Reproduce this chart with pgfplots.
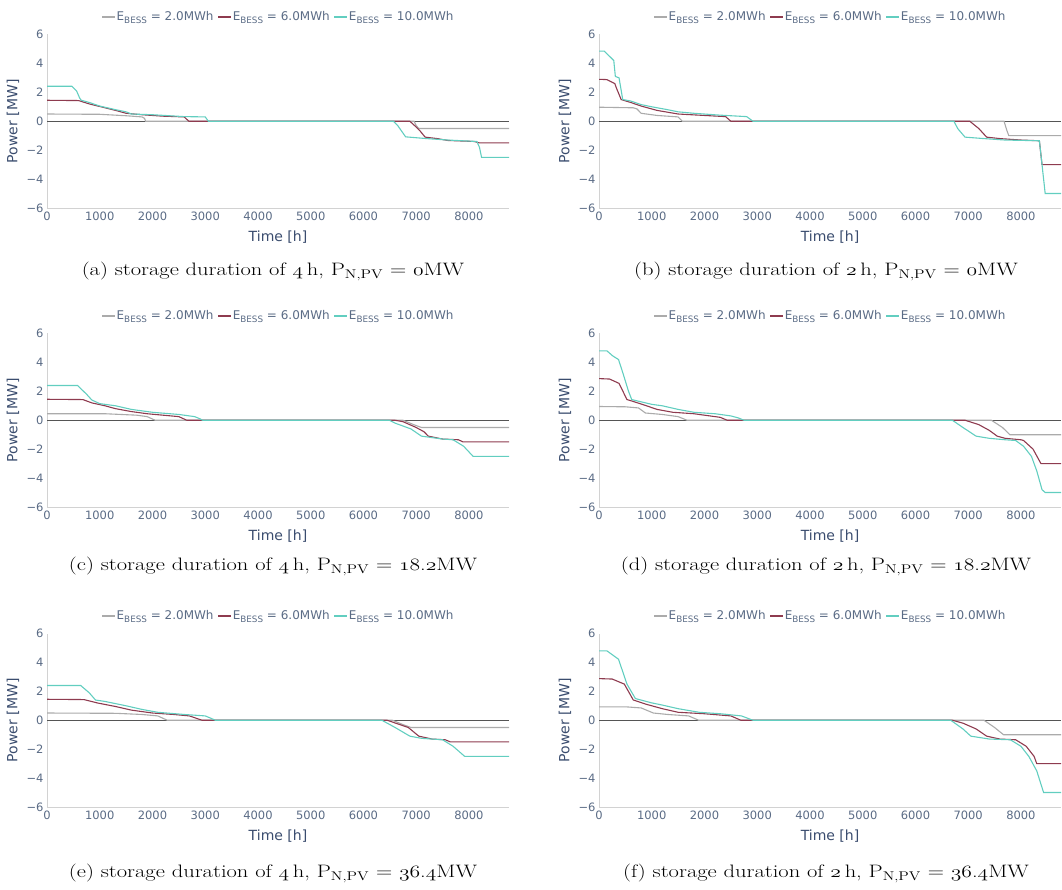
\documentclass[border=0pt]{standalone}
\usepackage{fontspec}
\usepackage{graphicx}
\usepackage{pgfplots}
\pgfplotsset{compat=1.18}
\newfontfamily\plotfont{DejaVu Sans}

\definecolor{cgray}{HTML}{ABABAB}
\definecolor{cred}{HTML}{8E3B4F}
\definecolor{cteal}{HTML}{62CEC0}
\definecolor{ctick}{HTML}{5A6B85}
\definecolor{ctitle}{HTML}{3A4C6E}
\definecolor{caxis}{HTML}{D2D2D2}
\definecolor{czero}{HTML}{555555}

% legend entry: E_BESS = <value>MWh
\newcommand\Eb[1]{E\raisebox{-2.3pt}{\fontsize{8.8}{9}\selectfont BESS} = #1MWh}
% old-style figures from the math italic font
\newcommand\osf[1]{{\usefont{OML}{cmm}{m}{it}#1}}

\pgfplotsset{
  bess/.style={
    scale only axis, width=462pt, height=173.5pt,
    xmin=0, xmax=8760, ymin=-6, ymax=6,
    axis lines*=left,
    axis line style={draw=caxis, line width=0.9pt},
    major tick length=0pt,
    xtick={0,1000,...,8000},
    ytick={-6,-4,...,6},
    xticklabels={0,1000,2000,3000,4000,5000,6000,7000,8000},
    yticklabels={−6,−4,−2,0,2,4,6},
    /pgf/number format/assume math mode=true,
    tick label style={font=\plotfont\fontsize{11.5}{13}\selectfont, text=ctick},
    xlabel={Time [h]}, ylabel={Power [MW]},
    label style={font=\plotfont\fontsize{14}{16}\selectfont, text=ctitle},
    xlabel style={at={(axis description cs:0.5,-0.167)}, anchor=center},
    ylabel style={at={(axis description cs:-0.0736,0.5)}, anchor=center},
    legend style={at={(0.5,1)}, anchor=south, yshift=11pt, draw=none, fill=none,
      legend columns=-1, inner sep=0pt,
      font=\plotfont\fontsize{12}{13}\selectfont, text=ctick,
      nodes={inner sep=1pt},
      /tikz/every even column/.append style={column sep=3pt}},
    legend image code/.code={\draw[#1, line width=1.2pt] (0pt,0pt) -- (13pt,0pt);},
    every axis plot/.append style={line width=1.1pt, mark=none},
  },
  zero/.style={czero, line width=0.7pt, forget plot},
}

\newcommand\caplabel[3]{\scalebox{1.25}[1]{(#1) storage duration of \osf{#2}\,h, $\mathrm{P}_{\mathrm{N,PV}}$ = #3MW}}

\begin{document}
\begin{tikzpicture}
\path[use as bounding box] (0,0) rectangle (1062pt,890pt);

% (a) 4 h, 0 MW
\begin{axis}[bess, at={(47pt,682pt)}, anchor=south west]
\addplot[zero] coordinates {(0,0) (8760,0)};
\addplot[cgray] coordinates {(0,0.5) (1000,0.48) (1500,0.38) (1800,0.3) (1850,0.2) (1870,0) (6960,0) (7000,-0.3) (7050,-0.5) (8760,-0.5)};
\addplot[cred] coordinates {(0,1.45) (600,1.43) (800,1.2) (1000,1.02) (1300,0.75) (1500,0.55) (1800,0.45) (2200,0.35) (2600,0.3) (2690,0) (6880,0) (7000,-0.4) (7080,-0.7) (7170,-1.1) (7400,-1.2) (7600,-1.33) (8100,-1.4) (8200,-1.5) (8760,-1.5)};
\addplot[cteal] coordinates {(0,2.42) (470,2.42) (560,2.1) (620,1.6) (650,1.45) (800,1.3) (1000,1.05) (1300,0.8) (1500,0.65) (1600,0.5) (2000,0.45) (2600,0.32) (3000,0.3) (3060,0) (6570,0) (6650,-0.3) (6800,-1.08) (7200,-1.2) (7600,-1.3) (8150,-1.4) (8200,-1.8) (8240,-2.5) (8760,-2.5)};
\legend{\Eb{2.0},\Eb{6.0},\Eb{10.0}}
\end{axis}

% (b) 2 h, 0 MW
\begin{axis}[bess, at={(599pt,682pt)}, anchor=south west]
\addplot[zero] coordinates {(0,0) (8760,0)};
\addplot[cgray] coordinates {(0,0.97) (650,0.93) (720,0.85) (800,0.55) (1100,0.4) (1500,0.3) (1580,0) (7680,0) (7730,-0.6) (7770,-1.0) (8760,-1.0)};
\addplot[cred] coordinates {(0,2.9) (150,2.88) (300,2.6) (330,2.3) (420,1.5) (600,1.3) (800,1.05) (1100,0.75) (1500,0.5) (2000,0.4) (2400,0.32) (2500,0) (7030,0) (7200,-0.5) (7350,-1.1) (7600,-1.2) (8000,-1.3) (8350,-1.35) (8400,-3.0) (8760,-3.0)};
\addplot[cteal] coordinates {(0,4.85) (100,4.85) (280,4.2) (310,3.1) (380,3.0) (450,1.5) (600,1.4) (800,1.15) (1000,1.0) (1300,0.8) (1500,0.65) (1800,0.55) (2300,0.42) (2800,0.32) (2920,0) (6730,0) (6800,-0.5) (6940,-1.1) (7300,-1.2) (7700,-1.3) (8350,-1.35) (8400,-3.0) (8460,-5.0) (8760,-5.0)};
\legend{\Eb{2.0},\Eb{6.0},\Eb{10.0}}
\end{axis}

% (c) 4 h, 18.2 MW
\begin{axis}[bess, at={(47pt,383pt)}, anchor=south west]
\addplot[zero] coordinates {(0,0) (8760,0)};
\addplot[cgray] coordinates {(0,0.45) (1100,0.45) (1700,0.35) (1900,0.25) (2050,0) (6750,0) (6950,-0.3) (7100,-0.5) (8760,-0.5)};
\addplot[cred] coordinates {(0,1.45) (680,1.43) (850,1.2) (1100,1.0) (1300,0.8) (1600,0.6) (1900,0.45) (2200,0.35) (2500,0.25) (2650,0) (6600,0) (6750,-0.1) (7000,-0.5) (7150,-0.8) (7230,-1.1) (7500,-1.3) (7800,-1.35) (7890,-1.5) (8760,-1.5)};
\addplot[cteal] coordinates {(0,2.4) (580,2.4) (750,1.8) (850,1.4) (1000,1.15) (1300,1.0) (1600,0.75) (2000,0.55) (2500,0.4) (2800,0.25) (2900,0.1) (2950,0) (6490,0) (6600,-0.2) (6900,-0.6) (7100,-1.1) (7300,-1.2) (7500,-1.3) (7700,-1.35) (7900,-1.8) (8080,-2.5) (8760,-2.5)};
\legend{\Eb{2.0},\Eb{6.0},\Eb{10.0}}
\end{axis}

% (d) 2 h, 18.2 MW
\begin{axis}[bess, at={(599pt,383pt)}, anchor=south west]
\addplot[zero] coordinates {(0,0) (8760,0)};
\addplot[cgray] coordinates {(0,0.95) (500,0.93) (750,0.85) (880,0.5) (1200,0.4) (1500,0.25) (1670,0) (7440,0) (7650,-0.5) (7790,-1.0) (8760,-1.0)};
\addplot[cred] coordinates {(0,2.88) (200,2.85) (380,2.55) (530,1.43) (650,1.3) (900,1.0) (1100,0.75) (1400,0.55) (1800,0.45) (2100,0.3) (2300,0.2) (2430,0) (6940,0) (7200,-0.3) (7400,-0.7) (7550,-1.1) (7700,-1.25) (8000,-1.35) (8050,-1.4) (8230,-2.0) (8380,-3.0) (8760,-3.0)};
\addplot[cteal] coordinates {(0,4.8) (150,4.8) (260,4.45) (370,4.2) (450,3.3) (560,2.0) (620,1.43) (1000,1.1) (1200,1.0) (1500,0.75) (1800,0.55) (2200,0.45) (2500,0.3) (2650,0.15) (2750,0) (6700,0) (6900,-0.5) (7150,-1.1) (7400,-1.25) (7700,-1.35) (7900,-1.4) (8050,-1.8) (8200,-2.5) (8300,-3.5) (8400,-4.8) (8460,-5.0) (8760,-5.0)};
\legend{\Eb{2.0},\Eb{6.0},\Eb{10.0}}
\end{axis}

% (e) 4 h, 36.4 MW
\begin{axis}[bess, at={(47pt,83pt)}, anchor=south west]
\addplot[zero] coordinates {(0,0) (8760,0)};
\addplot[cgray] coordinates {(0,0.5) (1300,0.48) (1800,0.4) (2100,0.3) (2280,0) (6550,0) (6750,-0.3) (6900,-0.5) (8760,-0.5)};
\addplot[cred] coordinates {(0,1.45) (700,1.43) (950,1.2) (1300,0.95) (1600,0.7) (2000,0.5) (2400,0.4) (2700,0.3) (2940,0) (6450,0) (6850,-0.5) (7050,-1.1) (7300,-1.3) (7550,-1.35) (7650,-1.5) (8760,-1.5)};
\addplot[cteal] coordinates {(0,2.4) (640,2.4) (800,1.9) (920,1.4) (1100,1.3) (1500,1.0) (1800,0.75) (2100,0.55) (2600,0.4) (3000,0.3) (3100,0.15) (3190,0) (6350,0) (6600,-0.5) (6880,-1.1) (7100,-1.25) (7500,-1.35) (7700,-1.8) (7920,-2.5) (8760,-2.5)};
\legend{\Eb{2.0},\Eb{6.0},\Eb{10.0}}
\end{axis}

% (f) 2 h, 36.4 MW
\begin{axis}[bess, at={(599pt,83pt)}, anchor=south west]
\addplot[zero] coordinates {(0,0) (8760,0)};
\addplot[cgray] coordinates {(0,0.93) (500,0.93) (800,0.85) (1030,0.5) (1300,0.4) (1700,0.3) (1890,0) (7300,0) (7500,-0.5) (7670,-1.0) (8760,-1.0)};
\addplot[cred] coordinates {(0,2.88) (250,2.85) (480,2.5) (650,1.4) (900,1.1) (1200,0.8) (1500,0.55) (2000,0.45) (2500,0.3) (2690,0) (6700,0) (6900,-0.2) (7150,-0.6) (7350,-1.1) (7600,-1.3) (7900,-1.35) (8100,-1.8) (8250,-2.5) (8300,-3.0) (8760,-3.0)};
\addplot[cteal] coordinates {(0,4.8) (150,4.8) (370,4.22) (530,2.5) (690,1.5) (1000,1.2) (1200,1.05) (1500,0.8) (1900,0.55) (2300,0.45) (2700,0.3) (2920,0) (6670,0) (6900,-0.6) (7050,-1.1) (7400,-1.3) (7800,-1.35) (8000,-1.8) (8150,-2.5) (8300,-3.5) (8430,-5.0) (8760,-5.0)};
\legend{\Eb{2.0},\Eb{6.0},\Eb{10.0}}
\end{axis}

% sub-captions
\begin{scope}[every node/.style={font=\fontsize{18}{21}\selectfont, anchor=base, inner sep=0pt}]
\node at (273pt,614pt) {\caplabel{a}{4}{\osf{0}}};
\node at (826pt,614pt) {\caplabel{b}{2}{\osf{0}}};
\node at (273pt,319pt) {\caplabel{c}{4}{\osf{18}.\osf{2}}};
\node at (826pt,319pt) {\caplabel{d}{2}{\osf{18}.\osf{2}}};
\node at (273pt,12pt) {\caplabel{e}{4}{\osf{36}.\osf{4}}};
\node at (826pt,12pt) {\caplabel{f}{2}{\osf{36}.\osf{4}}};
\end{scope}
\end{tikzpicture}
\end{document}
